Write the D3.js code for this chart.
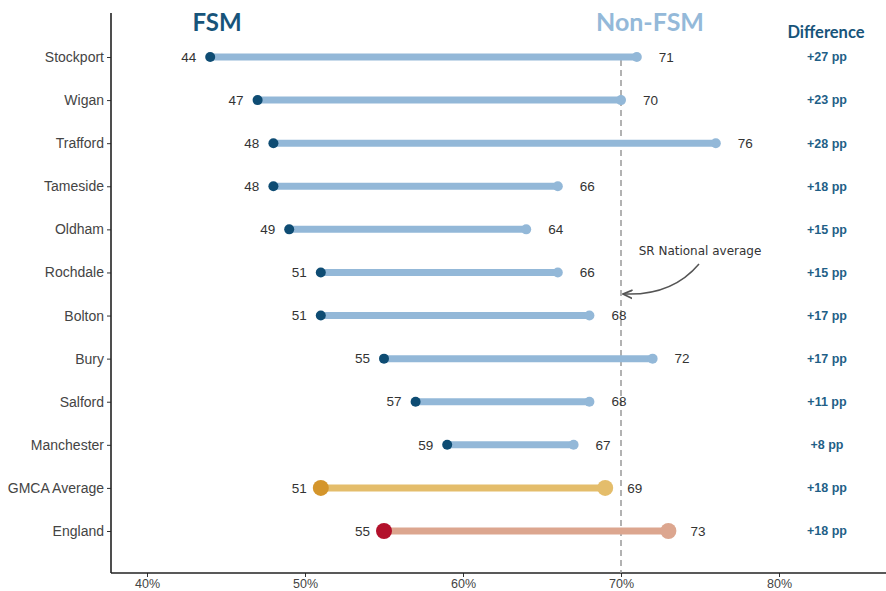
<!DOCTYPE html>
<html><head><meta charset="utf-8">
<script src="https://cdn.jsdelivr.net/npm/d3@7"></script>
<style>body{margin:0;background:#fff}svg{display:block}</style>
</head><body><svg id="c" width="886" height="591"></svg>
<script>
const areas = ["Stockport","Wigan","Trafford","Tameside","Oldham","Rochdale","Bolton","Bury","Salford","Manchester","GMCA Average","England"];
const fsm =    [44,47,48,48,49,51,51,55,57,59,51,55];
const nonFsm = [71,70,76,66,64,66,68,72,68,67,69,73];
const diffLabels = ["+27 pp","+23 pp","+28 pp","+18 pp","+15 pp","+15 pp","+17 pp","+17 pp","+11 pp","+8 pp","+18 pp","+18 pp"];
const xTicks = [40,50,60,70,80];
const nationalAvg = 70;

const svg = d3.select("#c");
const x = d3.scaleLinear().domain([40,80]).range([147,779]);
const y = d3.scalePoint().domain(areas).range([57,531]);
const font = "'Liberation Sans', Arial, Helvetica, sans-serif";

function style(name){
  if(name==="GMCA Average") return {dot:"#d4952b", end:"#e4bd6b", line:"#e4bd6b", r:8};
  if(name==="England") return {dot:"#b3112b", end:"#dca68f", line:"#dca68f", r:8};
  return {dot:"#0e4c73", end:"#93b8d8", line:"#93b8d8", r:5};
}

// axes
const xAxis = svg.append("g").attr("transform","translate(0,573)")
  .call(d3.axisBottom(x).tickValues(xTicks).tickFormat(d=>d+"%").tickSize(4).tickPadding(2));
xAxis.select(".domain").remove();
xAxis.selectAll("line").attr("stroke","#333");
xAxis.selectAll("text").attr("font-family",font).attr("font-size",12.5).attr("fill","#444");
svg.append("line").attr("x1",111).attr("x2",886).attr("y1",573).attr("y2",573).attr("stroke","#222").attr("stroke-width",1.6);

const yAxis = svg.append("g").attr("transform","translate(111,0)")
  .call(d3.axisLeft(y).tickSize(4).tickPadding(3));
yAxis.select(".domain").remove();
yAxis.selectAll("line").attr("stroke","#333");
yAxis.selectAll("text").attr("font-family",font).attr("font-size",14).attr("fill","#444");
svg.append("line").attr("x1",111).attr("x2",111).attr("y1",13).attr("y2",573).attr("stroke","#222").attr("stroke-width",1.6);

// national average dashed line
svg.append("line").attr("x1",x(nationalAvg)).attr("x2",x(nationalAvg)).attr("y1",60).attr("y2",573)
  .attr("stroke","#999").attr("stroke-width",1.5).attr("stroke-dasharray","6,4");

const rows = areas.map((a,i)=>({a, f:fsm[i], n:nonFsm[i], d:diffLabels[i]}));
const g = svg.append("g");
g.selectAll("line.seg").data(rows).join("line")
  .attr("x1",d=>x(d.f)).attr("x2",d=>x(d.n)).attr("y1",d=>y(d.a)).attr("y2",d=>y(d.a))
  .attr("stroke",d=>style(d.a).line).attr("stroke-width",7);
g.selectAll("circle.n").data(rows).join("circle")
  .attr("cx",d=>x(d.n)).attr("cy",d=>y(d.a)).attr("r",d=>style(d.a).r).attr("fill",d=>style(d.a).end);
g.selectAll("circle.f").data(rows).join("circle")
  .attr("cx",d=>x(d.f)).attr("cy",d=>y(d.a)).attr("r",d=>style(d.a).r).attr("fill",d=>style(d.a).dot);

g.selectAll("text.fl").data(rows).join("text")
  .attr("x",d=>x(d.f)-14).attr("y",d=>y(d.a)).attr("dy","0.35em").attr("text-anchor","end")
  .attr("font-family",font).attr("font-size",13.5).attr("fill","#333").text(d=>d.f);
g.selectAll("text.nl").data(rows).join("text")
  .attr("x",d=>x(d.n)+22).attr("y",d=>y(d.a)).attr("dy","0.35em").attr("text-anchor","start")
  .attr("font-family",font).attr("font-size",13.5).attr("fill","#333").text(d=>d.n);
g.selectAll("text.dl").data(rows).join("text")
  .attr("x",827).attr("y",d=>y(d.a)).attr("dy","0.35em").attr("text-anchor","middle")
  .attr("font-family",font).attr("font-weight","bold").attr("font-size",12.5).attr("fill","#1f5f87").text(d=>d.d);

// headers
svg.append("text").attr("x",217).attr("y",31).attr("text-anchor","middle")
  .attr("font-family","Lato, sans-serif").attr("font-weight","bold").attr("font-size",24).attr("fill","#17547a").text("FSM");
svg.append("text").attr("x",650).attr("y",31).attr("text-anchor","middle")
  .attr("font-family","Lato, sans-serif").attr("font-weight","bold").attr("font-size",25).attr("fill","#94b9d9").text("Non-FSM");
svg.append("text").attr("x",826).attr("y",38).attr("text-anchor","middle")
  .attr("font-family","Lato, sans-serif").attr("font-weight","bold").attr("font-size",16.5).attr("fill","#17547a").text("Difference");

// annotation
svg.append("text").attr("x",700).attr("y",255).attr("text-anchor","middle")
  .attr("font-family","'DejaVu Sans', sans-serif").attr("font-size",12).attr("fill","#333").text("SR National average");
svg.append("defs").append("marker").attr("id","ah").attr("viewBox","0 0 10 10").attr("refX",8).attr("refY",5)
  .attr("markerWidth",7).attr("markerHeight",7).attr("orient","auto-start-reverse")
  .append("path").attr("d","M0,1 L9,5 L0,9").attr("fill","none").attr("stroke","#555").attr("stroke-width",1.6);
svg.append("path").attr("d","M699,264 Q672,296 624,294").attr("fill","none").attr("stroke","#555").attr("stroke-width",1.5)
  .attr("marker-end","url(#ah)");
</script></body></html>
